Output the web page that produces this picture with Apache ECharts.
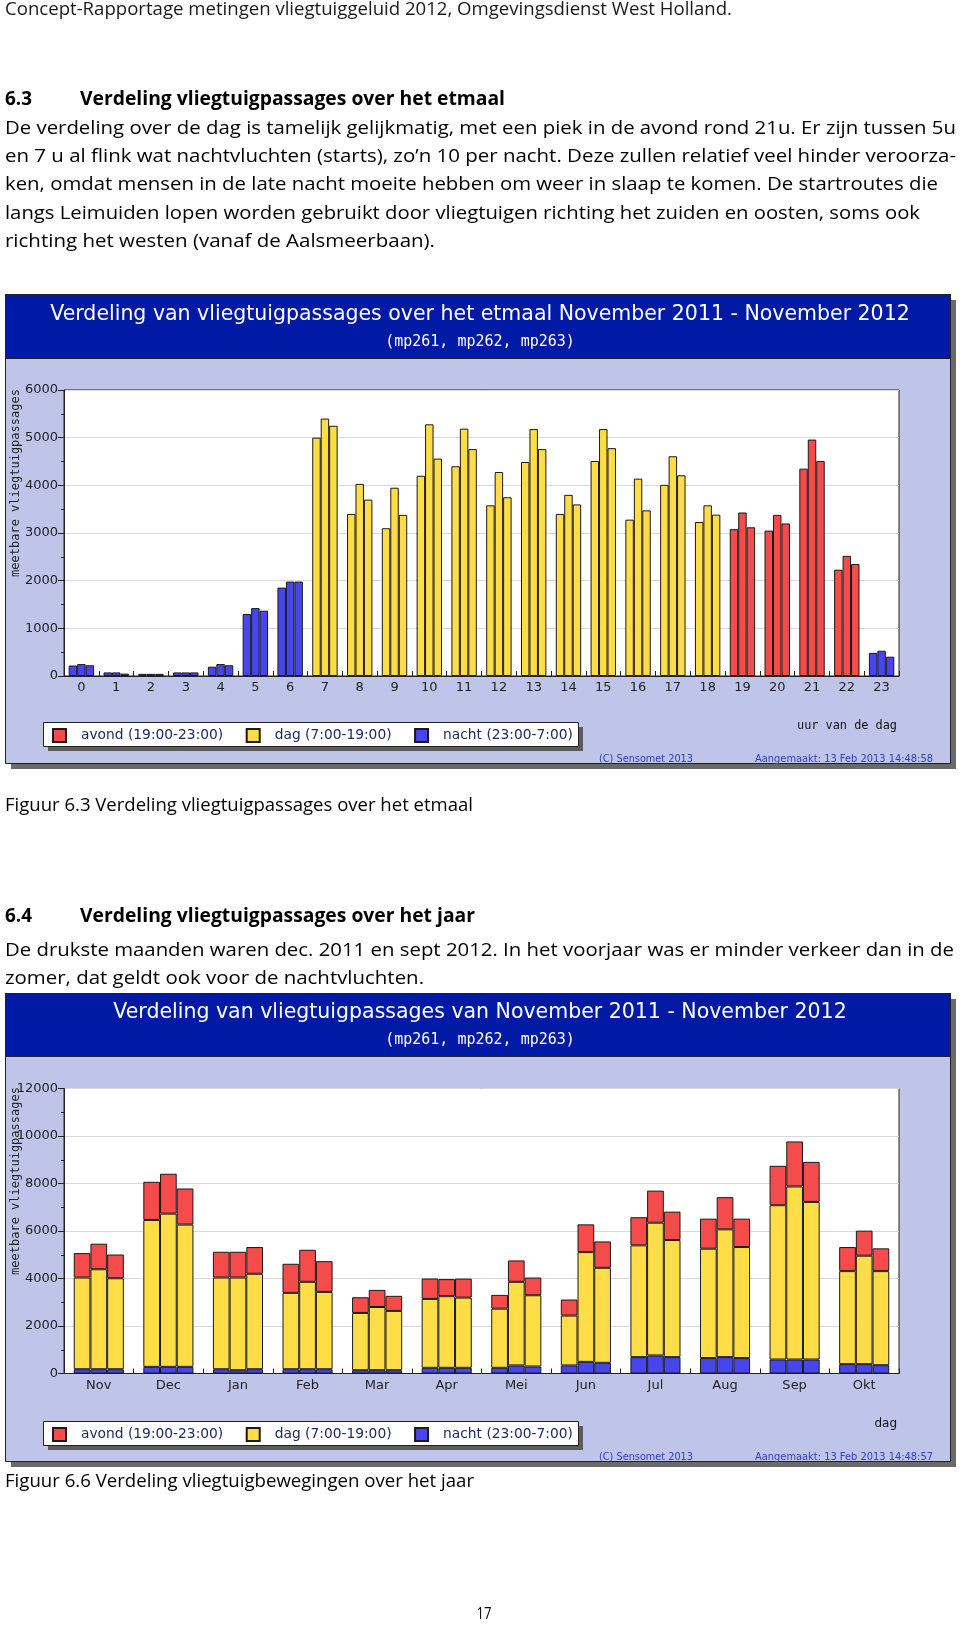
<!DOCTYPE html>
<html>
<head>
<meta charset="utf-8">
<script src="https://cdn.jsdelivr.net/npm/echarts@6/dist/echarts.min.js"></script>
<style>
html,body{margin:0;padding:0;background:#fff;}
#c{width:960px;height:1626px;}
</style>
</head>
<body>
<div id="c"></div>
<script>
// ---------- DATA ----------
const hours = ['0','1','2','3','4','5','6','7','8','9','10','11','12','13','14','15','16','17','18','19','20','21','22','23'];
const hourPeriod = ['nacht','nacht','nacht','nacht','nacht','nacht','nacht',
  'dag','dag','dag','dag','dag','dag','dag','dag','dag','dag','dag','dag',
  'avond','avond','avond','avond','nacht'];
const mp261Hour = [220,75,45,75,195,1300,1855,5000,3400,3100,4200,4400,3580,4490,3400,4510,3280,4010,3230,3080,3050,4350,2230,485];
const mp262Hour = [250,75,45,75,250,1425,1980,5400,4030,3950,5280,5190,4280,5180,3800,5180,4140,4610,3580,3430,3380,4960,2520,530];
const mp263Hour = [225,50,45,75,225,1370,1980,5250,3700,3380,4560,4760,3750,4760,3600,4780,3475,4210,3385,3120,3200,4510,2350,405];

const months = ['Nov','Dec','Jan','Feb','Mar','Apr','Mei','Jun','Jul','Aug','Sep','Okt'];
const nacht261 = [180,280,180,180,140,240,240,340,690,650,590,395];
const nacht262 = [180,280,140,180,140,240,340,490,760,690,590,395];
const nacht263 = [180,280,180,180,140,240,295,450,690,650,590,350];
const dag261 = [3860,6185,3860,3215,2410,2900,2490,2100,4705,4605,6495,3915];
const dag262 = [4210,6450,3900,3680,2660,3015,3520,4620,5590,5380,7285,4565];
const dag263 = [3830,5990,4020,3255,2495,2955,3000,4000,4930,4675,6635,3960];
const avond261 = [1030,1605,1085,1225,660,860,580,675,1185,1265,1660,1015];
const avond262 = [1075,1680,1085,1350,720,720,900,1170,1350,1355,1895,1055];
const avond263 = [1000,1520,1125,1295,635,800,745,1110,1195,1195,1685,960];

const yTicks1 = ['0','1000','2000','3000','4000','5000','6000'];
const yTicks2 = ['0','2000','4000','6000','8000','10000','12000'];
const periodKeys = ['avond','dag','nacht'];
const legendNames = ['avond (19:00-23:00)','dag (7:00-19:00)','nacht (23:00-7:00)'];
const mpNames = ['mp261','mp262','mp263'];

// ---------- STYLE ----------
const periodColors = ['#F54B4B','#FFDD47','#4646EC'];
const BAR_BORDER = '#1a1a1a';
const LAV = '#BFC5E8';
const BAND = '#001AA5';
const AX = '#222';
const SANS = '"DejaVu Sans"';
const MONO = '"DejaVu Sans Mono"';
const BODY = '"Open Sans"';

const mctx = document.createElement('canvas').getContext('2d');
function fit(text, font, target){ mctx.font = font; const w = mctx.measureText(text).width; return w ? target / w : 1; }
function txt(text, x, y, font, target, align, color, z){
  const s = target ? fit(text, font, target) : 1;
  return {type:'text', x:x, y:y, scaleX:s, z: z==null?20:z, silent:true,
    style:{text:text, font:font, fill:color||'#111', textAlign:align||'left', align:align||'left',
      textVerticalAlign:'middle', verticalAlign:'middle'}};
}

const graphics = [];
// Chart frames
function frame(top, bottom, bandBottom){
  graphics.push({type:'rect', z:-12, silent:true, shape:{x:11, y:top+6, width:945, height:bottom-top}, style:{fill:'#6a6a6a'}});
  graphics.push({type:'rect', z:-11, silent:true, shape:{x:5.5, y:top+0.5, width:945, height:bottom-top}, style:{fill:LAV, stroke:'#222', lineWidth:1}});
  graphics.push({type:'rect', z:-10, silent:true, shape:{x:5.5, y:top+0.5, width:945, height:bandBottom-top}, style:{fill:BAND, stroke:'#222', lineWidth:1}});
}
frame(294, 763, 358);
frame(993, 1461, 1056);
// legend boxes
function legendBox(top){
  graphics.push({type:'rect', z:2, silent:true, shape:{x:48, y:top+5, width:535, height:24}, style:{fill:'#5c5c5c'}});
  graphics.push({type:'rect', z:3, silent:true, shape:{x:43.5, y:top+0.5, width:535, height:24}, style:{fill:'#fff', stroke:'#222', lineWidth:1}});
}
legendBox(722);
legendBox(1421);

// x-axis names
graphics.push(txt('uur van de dag', 897, 726, '12px ' + MONO, 100, 'right', '#111'));
graphics.push(txt('dag', 897, 1424, '12px ' + SANS, 0, 'right', '#111'));

// copyright texts
const cpFont = '10px ' + SANS;
graphics.push(txt('(C) Sensomet 2013', 599, 759, cpFont, 94, 'left', '#3040c0'));
graphics.push(txt('Aangemaakt: 13 Feb 2013 14:48:58', 755, 759, cpFont, 178, 'left', '#3040c0'));
graphics.push(txt('(C) Sensomet 2013', 599, 1457, cpFont, 94, 'left', '#3040c0'));
graphics.push(txt('Aangemaakt: 13 Feb 2013 14:48:57', 755, 1457, cpFont, 178, 'left', '#3040c0'));

// page text
const bodyFont = '19px ' + BODY;
const boldFont = 'bold 19px ' + BODY;
graphics.push(txt('Concept-Rapportage metingen vliegtuiggeluid 2012, Omgevingsdienst West Holland.', 5, 9.5, '18px ' + BODY, 727, 'left', '#1a1a1a'));
graphics.push(txt('6.3', 5, 99.5, boldFont, 27, 'left', '#000'));
graphics.push(txt('Verdeling vliegtuigpassages over het etmaal', 80, 99.5, boldFont, 425, 'left', '#000'));
graphics.push(txt('De verdeling over de dag is tamelijk gelijkmatig, met een piek in de avond rond 21u. Er zijn tussen 5u', 5, 128.5, bodyFont, 951, 'left', '#000'));
graphics.push(txt('en 7 u al flink wat nachtvluchten (starts), zo\u2019n 10 per nacht. Deze zullen relatief veel hinder veroorza-', 5, 156.5, bodyFont, 951, 'left', '#000'));
graphics.push(txt('ken, omdat mensen in de late nacht moeite hebben om weer in slaap te komen. De startroutes die', 5, 184.5, bodyFont, 933, 'left', '#000'));
graphics.push(txt('langs Leimuiden lopen worden gebruikt door vliegtuigen richting het zuiden en oosten, soms ook', 5, 213.5, bodyFont, 915, 'left', '#000'));
graphics.push(txt('richting het westen (vanaf de Aalsmeerbaan).', 5, 241.5, bodyFont, 430, 'left', '#000'));
graphics.push(txt('Figuur 6.3 Verdeling vliegtuigpassages over het etmaal', 5, 806, bodyFont, 468, 'left', '#000'));
graphics.push(txt('6.4', 5, 916.5, boldFont, 27, 'left', '#000'));
graphics.push(txt('Verdeling vliegtuigpassages over het jaar', 80, 916.5, boldFont, 395, 'left', '#000'));
graphics.push(txt('De drukste maanden waren dec. 2011 en sept 2012. In het voorjaar was er minder verkeer dan in de', 5, 951, bodyFont, 949, 'left', '#000'));
graphics.push(txt('zomer, dat geldt ook voor de nachtvluchten.', 5, 978.5, bodyFont, 419, 'left', '#000'));
graphics.push(txt('Figuur 6.6 Verdeling vliegtuigbewegingen over het jaar', 5, 1481.5, bodyFont, 469, 'left', '#000'));
graphics.push(txt('17', 484, 1614, '17px ' + BODY, 15, 'center', '#000'));

// ---------- SERIES ----------
const series = [];
const hourData = [mp261Hour, mp262Hour, mp263Hour];
hourData.forEach((vals, m) => {
  periodKeys.forEach((pk, p) => {
    series.push({
      type:'bar', name:legendNames[p], xAxisIndex:0, yAxisIndex:0, stack:'h'+mpNames[m],
      data: vals.map((v,i) => hourPeriod[i] === pk ? v : '-'),
      itemStyle:{color:periodColors[p], borderColor:BAR_BORDER, borderWidth:1},
      barGap:'0%', barCategoryGap:'27%', animation:false, emphasis:{disabled:true}
    });
  });
});
const monthData = [
  [avond261, dag261, nacht261],
  [avond262, dag262, nacht262],
  [avond263, dag263, nacht263]
];
monthData.forEach((parts, m) => {
  [2,1,0].forEach(p => {
    series.push({
      type:'bar', name:legendNames[p], xAxisIndex:1, yAxisIndex:1, stack:'m'+mpNames[m],
      data: parts[p].slice(),
      itemStyle:{color:periodColors[p], borderColor:BAR_BORDER, borderWidth:1},
      barGap:'0%', barCategoryGap:'28%', animation:false, emphasis:{disabled:true}
    });
  });
});

function xAxisCfg(gi, cats, margin){
  return {
    type:'category', gridIndex:gi, data:cats,
    axisLine:{lineStyle:{color:AX, width:1}},
    axisTick:{show:true, inside:true, length:5, lineStyle:{color:AX}},
    axisLabel:{fontFamily:SANS, fontSize:13, color:'#222', margin:margin, interval:0},
    splitLine:{show:false}
  };
}
function yAxisCfg(gi, max, interval, ticks){
  return {
    type:'value', gridIndex:gi, min:0, max:max, interval:interval,
    name:'meetbare vliegtuigpassages', nameLocation:'middle', nameRotate:90, nameGap:42,
    nameMoveOverlap:false,
    nameTextStyle:{fontFamily:MONO, fontSize:12, color:'#222', padding:[0,0,0,100]},
    axisLine:{show:true, lineStyle:{color:AX, width:1}},
    axisTick:{show:true, length:6, lineStyle:{color:AX}},
    minorTick:{show:true, splitNumber:2, length:3, lineStyle:{color:AX}},
    axisLabel:{fontFamily:SANS, fontSize:13, color:'#222', margin:6,
      formatter:(v) => ticks[Math.round(v/interval)] || String(v)},
    splitLine:{show:true, lineStyle:{color:'#d9d9d9', width:1}}
  };
}
function legendCfg(top){
  return {
    left:52, top:top, padding:0, itemWidth:13, itemHeight:13, itemGap:22.5, icon:'rect',
    selectedMode:false, z:5, data:legendNames,
    textStyle:{fontFamily:SANS, fontSize:13.8, color:'#1e2a66', padding:[0,0,0,10]}
  };
}

const option = {
  animation:false,
  backgroundColor:'#fff',
  title:[
    {text:'Verdeling van vliegtuigpassages over het etmaal November 2011 - November 2012',
     subtext:'(mp261, mp262, mp263)', left:'center', top:304, padding:0, itemGap:8,
     textStyle:{fontFamily:SANS, fontSize:20.5, fontWeight:'normal', color:'#fff', lineHeight:22},
     subtextStyle:{fontFamily:MONO, fontSize:15, color:'#fff', lineHeight:16}},
    {text:'Verdeling van vliegtuigpassages van November 2011 - November 2012',
     subtext:'(mp261, mp262, mp263)', left:'center', top:1002, padding:0, itemGap:8,
     textStyle:{fontFamily:SANS, fontSize:20.5, fontWeight:'normal', color:'#fff', lineHeight:22},
     subtextStyle:{fontFamily:MONO, fontSize:15, color:'#fff', lineHeight:16}}
  ],
  legend:[legendCfg(728), legendCfg(1427)],
  grid:[
    {left:64, top:390, width:835, height:286, show:true, backgroundColor:'#fff', borderColor:'#222', borderWidth:1, containLabel:false, outerBoundsMode:'none'},
    {left:64, top:1088.5, width:835, height:285, show:true, backgroundColor:'#fff', borderColor:'#222', borderWidth:1, containLabel:false, outerBoundsMode:'none'}
  ],
  xAxis:[xAxisCfg(0, hours, 5), xAxisCfg(1, months, 6)],
  yAxis:[yAxisCfg(0, 6000, 1000, yTicks1), yAxisCfg(1, 12000, 2000, yTicks2)],
  graphic:{elements:graphics},
  series:series
};

const chart = echarts.init(document.getElementById('c'), null, {renderer:'canvas', width:960, height:1626});
chart.setOption(option);
</script>
</body>
</html>
